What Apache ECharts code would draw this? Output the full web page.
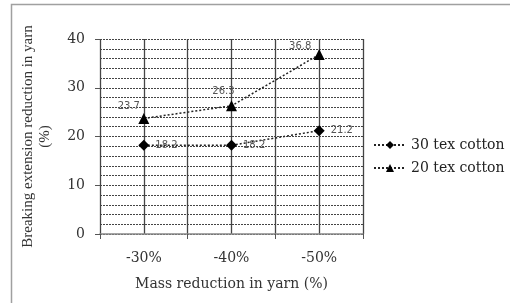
<!DOCTYPE html>
<html><head><meta charset="utf-8">
<script src="https://cdn.jsdelivr.net/npm/echarts@6/dist/echarts.min.js"></script>
<style>html,body{margin:0;padding:0;background:#fff}#c{width:510px;height:303px}</style>
</head><body><div id="c"></div>
<script>
var categories = ['-30%', '-40%', '-50%'];
var tex30 = [18.2, 18.2, 21.2];
var tex20 = [23.7, 26.3, 36.8];
var seriesNames = ['30 tex cotton', '20 tex cotton'];
var xTitle = 'Mass reduction in yarn (%)';
var yTitle = 'Breaking extension reduction in yarn\n(%)';

var serif = '"DejaVu Serif",serif';
var serifN = '"Liberation Serif",serif';
var sans = '"DejaVu Sans",sans-serif';
var chart = echarts.init(document.getElementById('c'));
var lbl20 = [[-15, -2], [-8, -4], [-19, 2]];
function build20(vals){
  return vals.map(function(v,i){
    return {value: v, label: {offset: lbl20[i]}};
  });
}
chart.setOption({
  animation: false,
  textStyle: {fontFamily: serif},
  graphic: [{type:'rect', shape:{x:11.5,y:4.5,width:520,height:320}, style:{fill:'none', stroke:'#a0a0a0', lineWidth:1.5}}],
  grid: {left: 100, right: 147, top: 39, bottom: 69},
  legend: {
    orient: 'vertical', left: 368, top: 133, itemGap: 9, itemWidth: 32, itemHeight: 10,
    textStyle: {fontFamily: serif, fontSize: 14, color: '#222'},
    data: seriesNames
  },
  xAxis: [{
    type: 'category', data: categories, boundaryGap: true,
    axisLine: {lineStyle: {color: '#888', width: 1.5}},
    axisTick: {show: true, length: 5, lineStyle: {color: '#555'}},
    axisLabel: {fontFamily: serif, fontSize: 14, color: '#333', margin: 17},
    splitLine: {show: false},
    name: xTitle, nameLocation: 'middle', nameGap: 43,
    nameTextStyle: {fontFamily: serif, fontSize: 14, color: '#333'}
  }, {
    type: 'value', min: 0, max: 6, interval: 1, position: 'bottom', show: true,
    axisLine: {show: false}, axisTick: {show: false}, axisLabel: {show: false},
    splitLine: {show: true, lineStyle: {color: '#444', width: 1.3}}
  }],
  yAxis: {
    type: 'value', min: 0, max: 40, interval: 10,
    axisLine: {show: false},
    axisTick: {show: true, length: 5, lineStyle: {color: '#555'}},
    axisLabel: {fontFamily: serif, fontSize: 14, color: '#333', margin: 15},
    splitLine: {show: true, lineStyle: {color: '#444', type: [2, 1], width: 1}},
    minorTick: {show: false, splitNumber: 5},
    minorSplitLine: {show: true, lineStyle: {color: '#444', type: [2, 1], width: 1}},
    name: yTitle, nameLocation: 'middle', nameRotate: 90, nameGap: 46,
    nameTextStyle: {fontFamily: serifN, fontSize: 15, color: '#333', lineHeight: 17}
  },
  series: [{
    name: seriesNames[0], type: 'line', data: tex30, xAxisIndex: 0,
    symbol: 'diamond', symbolSize: 11, itemStyle: {color: '#000'},
    lineStyle: {color: '#222', type: [2, 2], width: 1.5},
    label: {show: true, position: 'right', distance: 6, fontFamily: sans, fontSize: 10, color: '#555'},
    z: 5
  }, {
    name: seriesNames[1], type: 'line', data: build20(tex20), xAxisIndex: 0,
    symbol: 'triangle', symbolSize: 11, itemStyle: {color: '#000'},
    lineStyle: {color: '#222', type: [2, 2], width: 1.5},
    label: {show: true, position: 'top', distance: 0, fontFamily: sans, fontSize: 10, color: '#555'},
    z: 5
  }]
});
</script></body></html>
